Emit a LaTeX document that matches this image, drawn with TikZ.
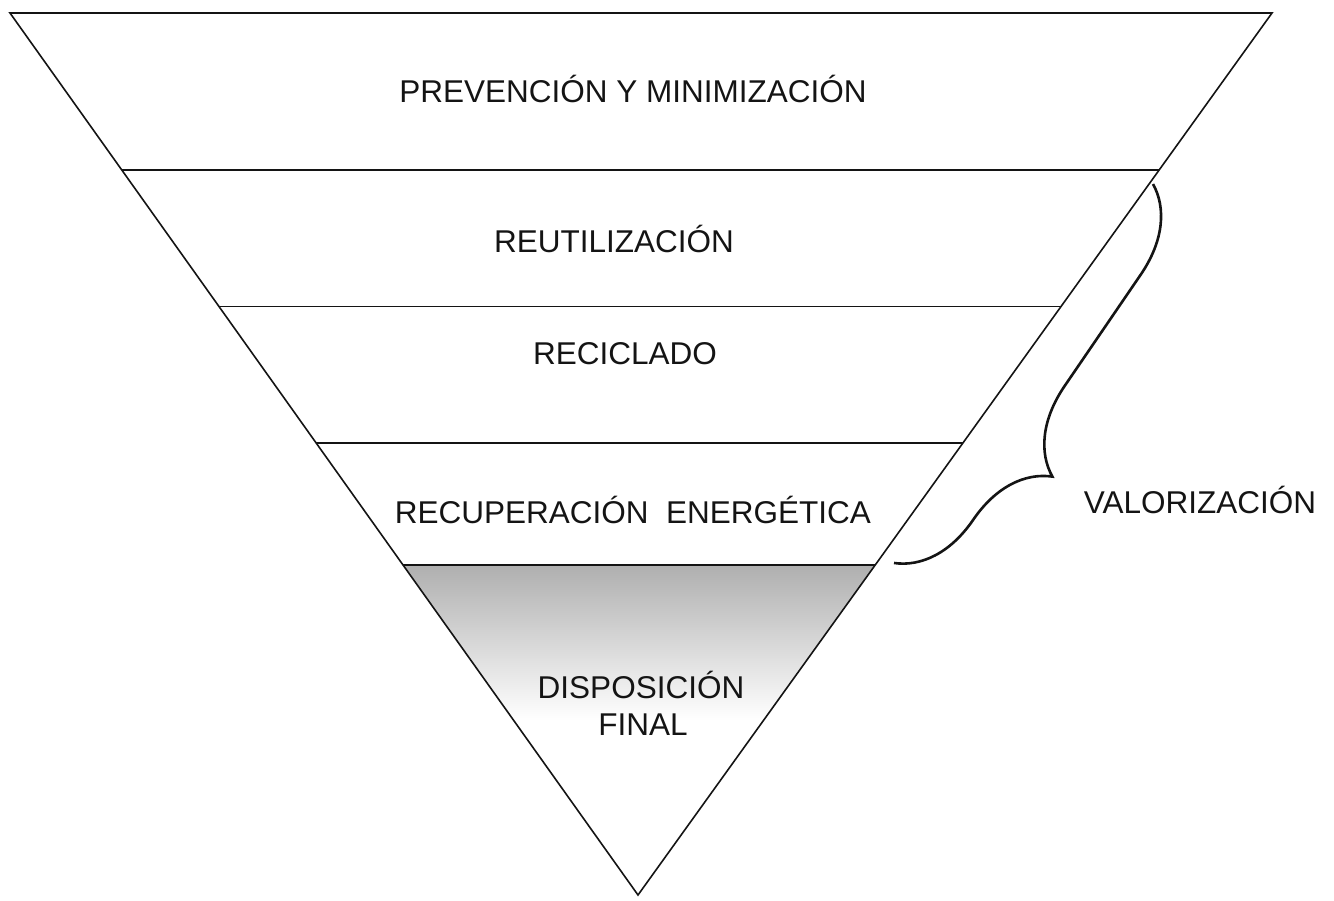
\documentclass[tikz,border=0pt]{standalone}
\usepackage{fontspec}
\setmainfont{Liberation Sans}
\usetikzlibrary{calc,decorations.pathreplacing}

\definecolor{lineColor}{RGB}{20,20,20}
\definecolor{shadeColor}{RGB}{175,175,175}

\tikzset{
  levelText/.style={font=\fontsize{31.5}{36}\selectfont, text=lineColor, anchor=base, inner sep=0pt},
  levelLine/.style={line width=1.6pt, draw=lineColor},
  valBrace/.style={decorate, decoration={brace, amplitude=82pt, aspect=0.65}, line width=2.6pt, draw=lineColor},
}

\begin{document}
\begin{tikzpicture}[x=1pt,y=-1pt]
  \useasboundingbox (0,0) rectangle (1334,901);
  \coordinate (tl) at (10,13);
  \coordinate (tr) at (1272,13);
  \coordinate (apex) at (638,895);
  % Shaded bottom part
  \begin{scope}
    \clip ($(tl)!0.626!(apex)$) -- ($(tr)!0.626!(apex)$) -- (apex) -- cycle;
    \shade[top color=shadeColor, middle color=shadeColor!85, bottom color=white] (380,565) rectangle (900,720);
  \end{scope}
  % Triangle
  \draw[levelLine] (tl) -- (tr) -- (apex) -- cycle;
  % Levels
  \draw[levelLine] ($(tl)!0.178!(apex)$) coordinate (la) -- ($(tr)!0.178!(apex)$) coordinate (ra);
  \draw[levelLine] ($(tl)!0.333!(apex)$) coordinate (lb) -- ($(tr)!0.333!(apex)$) coordinate (rb);
  \draw[levelLine] ($(tl)!0.4875!(apex)$) coordinate (lc) -- ($(tr)!0.4875!(apex)$) coordinate (rc);
  \draw[levelLine] ($(tl)!0.626!(apex)$) coordinate (ld) -- ($(tr)!0.626!(apex)$) coordinate (rd);
  % Labels
  \node[levelText] (prevencion) at (633,103) {PREVENCIÓN Y MINIMIZACIÓN};
  \node[levelText] (reutilizacion) at (614,253) {REUTILIZACIÓN};
  \node[levelText] (reciclado) at (625,365) {RECICLADO};
  \node[levelText] (recuperacion) at (633,523) {RECUPERACIÓN\ \ ENERGÉTICA};
  \node[levelText] (disposicion) at (641,698) {DISPOSICIÓN};
  \node[levelText] (final) at (643,735) {FINAL};
  % Brace
  \coordinate (braceTop) at (1153,184);
  \coordinate (braceBot) at (894,563);
  \draw[valBrace] (braceTop) -- (braceBot);
  \node[levelText] (valorizacion) at (1200,513) {VALORIZACIÓN};
\end{tikzpicture}
\end{document}
